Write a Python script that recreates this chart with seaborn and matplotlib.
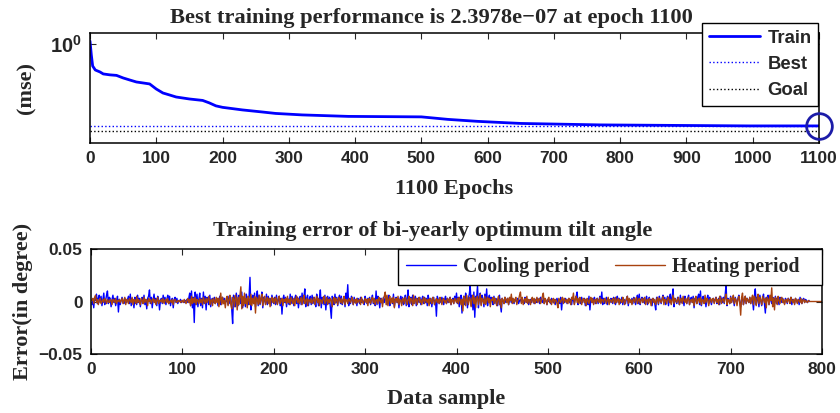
import numpy as np
import matplotlib
matplotlib.use("Agg")
import matplotlib.pyplot as plt
import seaborn as sns

# ---- data ----
# top panel: training mse (log scale)
epoch_pts = [0, 2, 4, 8, 15, 20, 30, 40, 50, 60, 70, 80, 90, 100, 110, 120, 130,
             150, 170, 180, 190, 200, 230, 260, 280, 320, 390, 500, 540, 585,
             650, 770, 995, 1100]
train_mse = [1.74, 1.29e-1, 1.66e-2, 7.9e-3, 5.5e-3, 3.8e-3, 3.2e-3, 2.9e-3,
             1.8e-3, 1.23e-3, 8.5e-4, 7.1e-4, 5.9e-4, 2.3e-4, 1.1e-4, 7.6e-5,
             5.2e-5, 3.6e-5, 2.75e-5, 1.74e-5, 1.0e-5, 7.6e-6, 4.7e-6, 3.2e-6,
             2.45e-6, 1.86e-6, 1.41e-6, 1.29e-6, 8.1e-7, 5.6e-7, 3.8e-7,
             2.9e-7, 2.4e-7, 2.3978e-7]
best_epoch = 1100
best_mse = 2.3978e-7
goal_mse = 1e-7
epoch_ticks = list(range(0, 1101, 100))

# bottom panel: training error, in units of 0.001 degree
cooling_err = [
    -3, 2, -6, 4, 1, 7, -2, 3, 6, -1, 5, -4, 2, 8, -3, 1, 6, 10, -2, 4, 3, -5, 2, 6, -1, 3, -4, 1, 5, -10, 2, -3, 1, 4, 0, -2, 3, 1, -1, 2,
    5, -2, 7, -4, 3, 1, -6, 4, 2, -3, 6, -1, 3, -5, 1, 4, -2, 6, -3, 2, -7, 3, 5, 11, -2, 4, -6, 2, 7, -1, 3, -4, 5, 2, -8, 1, 3, -2, 6, -1,
    4, -3, 2, 6, -2, 5, -4, 1, 3, -6, 2, 4, -1, 3, -2, 1, 0, 2, -1, 1, 0, -1, 1, 0, 2, -1, 3, 8, -4, 10, -6, 4, -20, 9, -3, 7, -5, 2, 8, -4,
    3, -6, 9, -2, 5, -8, 4, 1, -3, 6, -5, 2, 3, -1, 4, -2, 1, 3, -4, 2, 5, -3, 1, 4, -2, 3, -1, 0, 2, -3, 5, -2, 4, -7, -21, 6, 3, -5, 8, 2,
    -4, 6, 3, -2, 9, -6, 4, 2, -5, 7, 1, -3, 5, 23, -8, 4, 6, -2, 8, -5, 3, 10, -4, 6, -3, 2, 9, -6, 4, 1, -2, 7, -3, 5, -1, 3, -4, 6, 2, -2,
    4, -3, 6, -2, 1, 5, -4, 3, -12, 2, 6, -1, 4, -5, 3, 2, -3, 7, -2, 5, 1, -4, 3, 6, -2, 4, -6, 2, 5, -3, 8, -2, 4, 12, -5, 3, 6, -4, 2, 5,
    -3, 6, -2, 4, 1, -5, 7, 2, -4, 3, 11, -6, 4, 2, -3, 6, -8, 3, 5, -2, 4, -6, -16, 5, 2, -3, 7, -1, 4, -4, 3, 6, -2, 5, -3, 1, 4, -5, 8, 2,
    16, -4, 3, -2, 5, 1, -3, 4, -1, 2, -4, 3, 1, -2, 4, -1, 2, 0, -3, 5, 1, -2, 3, -1, 4, -3, 2, 6, -2, 1, -4, 10, -3, 5, 2, -6, 3, 1, -2, 4,
    -1, 3, 5, -3, 2, 6, -4, 1, 3, -2, 7, -5, 2, 4, -1, 3, -6, 2, 5, -2, 4, -3, 1, 6, -4, 3, 11, -5, 2, 4, -3, 6, -2, 1, 5, -4, 3, 2, -1, 4,
    -3, 2, 5, -2, 4, -1, 3, -4, 6, 1, -2, 3, -5, 2, 4, -3, 1, -14, 5, 2, -2, 3, -1, 4, 1, -3, 2, 5, -2, 3, -1, 2, 4, -3, 1, 3, -2, 5, 1, 8,
    -2, 4, -5, 3, 6, -11, 2, 5, -3, 8, 4, -6, 3, 7, 15, -4, 6, -8, 9, -15, 5, 3, 15, -6, 4, 8, -3, 6, 2, -5, 7, -2, 12, -4, 3, 6, -2, 4, 1, -3,
    5, -2, 3, 1, -4, 2, 6, -3, -10, 3, 1, -2, 4, -1, 2, 3, -3, 1, 2, -1, 3, 0, -2, 2, 1, -1, 3, -2, 1, 2, -1, 3, 0, -2, 4, 1, -1, 2, -3, 1,
    2, -1, 3, 1, -2, 2, 0, -1, 3, 1, -2, 4, 1, -1, 3, -2, 2, 1, -3, 2, 0, 1, -2, 3, 1, -1, 2, -3, 1, 3, -1, 2, -2, 4, -8, 2, 1, -1, 3, 2,
    -2, 1, 3, -1, 2, -3, 4, 1, -2, 3, 5, 9, -3, 2, 1, -2, 4, -1, 2, 3, -4, 2, 1, -3, 5, -8, 2, 3, -1, 2, 4, -2, 1, 3, -2, 2, 5, -1, 9, -3,
    3, -2, 1, 4, -3, 2, 1, -1, 3, 2, -2, 4, 1, -3, 2, 5, -1, 3, -2, 1, 4, -3, 2, 1, -2, 3, 5, -4, 2, 1, -1, 3, -2, 4, 1, -3, 2, 6, -2, 7,
    -3, 2, 4, -1, 3, -2, 1, 5, -3, 2, 4, -1, 2, -4, 3, 1, -2, -8, 4, 2, -3, 5, 1, -2, 3, 6, -1, 4, -3, 2, 5, -4, 3, 7, -2, 4, 12, -5, 3, 1,
    -2, 4, 1, -3, 6, -1, 3, 2, -4, 5, 1, -2, 3, 6, -3, 2, 4, -1, 5, -6, 3, 2, -2, 4, 7, -3, 10, -4, 2, 5, -1, 3, -5, 2, 6, -2, 4, 1, -3, 2,
    3, -1, 2, 4, -2, 1, 3, -3, 5, 2, -1, 4, -2, 6, 16, -4, 3, 1, -2, 5, -1, 3, 2, -4, 4, 1, -2, 3, 6, -1, -5, 2, 4, -3, 1, 5, -2, 3, 1, -1,
    4, -2, 3, 1, -8, 5, 12, -3, 4, 2, -5, 6, 1, -4, 3, 7, -2, -11, 4, 2, 6, -3, 5, 1, -2, 4, 3, -1, 5, -2, 3, 1, -3, 4, 2, -1, 3, 0, -2, 3,
    1, -2, 3, 2, -1, 4, -3, 2, 1, -2, 3, 1, -1, 2, -3, 4, 1, -2, 2, 3, -1, 2, 1, -1, 0, 1,
]
heating_err = [
    1, 3, -2, 4, 6, -1, 2, -3, 1, 3, -2, 0, 2, -1, 3, 1, -2, 2, 0, -1, 2, 1, -3, 2, 1, -1, 3, -2, 1, 0, 2, -1, 1, 3, -2, 1, 4, -3, 2, 1,
    -2, 3, 1, -1, 4, -3, 2, 1, -2, 5, -1, 2, 0, -3, 3, 1, -2, 4, -1, 2, 1, -4, 3, 0, 2, -2, 1, 3, -1, 2, -3, 1, 4, -2, 1, 0, 2, -1, 3, -2,
    1, 2, -1, 3, -2, 0, 1, -1, 2, -3, 1, 2, 0, -1, 1, 0, 1, -1, 0, 1, -1, 2, 0, -2, 1, 3, -1, 2, -4, 5, -2, 3, -1, 4, -3, 2, 1, -2, 3, -1,
    2, -3, 4, 1, -2, 3, -1, 2, 5, -3, 1, 2, -4, 3, 1, -2, 4, -1, 3, -5, 2, 8, -3, 4, -2, 1, -6, 3, 5, -4, 2, 6, -3, -7, 4, 2, -5, 6, 3, -8,
    4, -3, 6, 14, -7, 5, -4, 8, -2, 3, -6, 5, 2, -3, 7, -4, 3, -2, 5, -11, 4, 2, -3, 6, -2, 3, 7, -4, 2, 5, -3, 1, 4, -2, 3, -5, 2, 4, -1, 3,
    -2, 4, 1, -3, 3, 5, -2, 1, 3, -4, 2, 0, 3, -2, 5, -1, 2, -3, 4, 1, -2, 3, -4, 2, 5, -1, 3, -2, 1, 4, -3, 2, 6, -2, 1, 3, -4, 2, 1, -1,
    3, -2, 1, 4, -3, 2, 5, -1, 3, -4, 2, 1, -2, 3, 5, -2, 1, 4, -3, 2, -1, 3, 1, -5, 2, 4, -2, 3, 1, -3, 4, 2, -1, 3, -2, 1, 5, -3, 2, 1,
    -2, 3, 1, -1, 2, 4, -3, 1, 2, -2, 3, -1, 1, 2, -3, 4, 0, -2, 1, 3, -1, 2, -4, 3, 1, -2, 2, 4, -1, 3, -3, 1, 2, -2, 4, 1, -1, 3, -5, 2,
    5, 9, -3, 6, -4, 2, 5, -2, 3, -1, 4, -6, 2, 3, -1, 5, -3, 2, 1, -4, 3, 2, -2, 4, 1, -3, 2, 5, -2, 3, 1, -4, 6, -2, 1, 3, -3, 2, 4, -1,
    2, -3, 1, 4, -2, 3, 1, -1, 2, -4, 3, 1, -2, 4, 2, -3, 1, 3, -1, 2, -2, 4, 1, -3, 2, 3, -1, 1, -2, 3, 2, -1, 4, -3, 2, 1, -2, 3, 1, -1,
    3, -2, 4, 1, -3, 2, -9, 5, 2, -4, 6, 1, -3, 4, 2, -5, 3, 6, -2, 4, -6, 3, 5, -3, 2, 7, -4, 3, 1, -2, 5, -3, 2, 4, -1, 3, -5, 2, 1, 4,
    -2, 3, 1, -4, 2, 5, -3, 2, -6, 3, 1, -2, 4, 2, -1, 3, -3, 4, 1, 7, -2, 3, -1, 2, 4, -3, 1, 2, 6, 9, -2, 4, -3, 1, 3, -1, 5, -2, 2, 1,
    -3, 2, 4, -1, 3, -2, 1, 4, -1, 2, 3, -2, 1, 5, 8, -2, 3, 1, -3, 2, 4, -1, 2, -3, 1, 3, -2, 2, 1, -2, -6, 3, 1, -1, 2, 4, -2, 3, 1, -1,
    2, -2, 3, 1, -3, 4, 2, 8, -3, 2, 5, -1, 3, -2, 4, 1, -3, 2, 3, -1, 2, -4, 3, 1, -2, 2, 4, -1, 3, -3, 1, 2, -2, 3, 1, -1, 4, -2, 2, 1,
    -1, 3, 2, -2, 1, 4, -3, 2, 1, -1, 3, 2, -2, 4, -1, 1, 3, -3, 2, 1, -1, 4, 2, -3, 1, 2, 5, -2, 3, -1, 2, -3, 1, 3, -1, 2, 4, -2, 1, 3,
    -2, 1, 3, -1, 2, 4, -3, 1, 2, -2, 3, 1, -4, 2, 3, -1, 2, -3, 1, 4, -2, 3, 1, -1, 2, 5, -3, 2, 1, -2, 3, 4, -1, 2, -3, 1, 6, -2, 3, 1,
    -1, 2, 4, -3, 1, 3, -2, 5, 1, -1, 3, -2, 2, 4, -3, 1, 2, -1, 3, -4, 2, 5, -2, 1, 3, -1, 4, -3, 2, 1, -2, 6, -1, 3, 2, -4, 1, 3, -1, 2,
    3, -2, 1, 4, -1, 2, -3, 5, 1, -2, 3, 2, -1, 4, 7, -3, 2, 1, -2, 4, -1, 3, 6, -2, 3, 1, -4, 2, 5, -1, -13, 4, 8, -3, 2, 5, -2, 3, 1, -1,
    4, -2, 3, 6, -3, 5, 2, -4, 3, 7, -2, 4, 1, -3, 5, 2, -1, 3, -6, 4, 2, -3, 6, 1, 13, -5, 3, -8, 4, 2, -3, 5, 1, -2, 3, 4, -1, 2, -3, 1,
    2, -1, 3, 1, -2, 4, 1, -1, 2, -3, 3, 1, -2, 2, 1, -1, 3, -2, 1, 2, -1, 1, 0, -1, 1, 0, 0, 0, 0, 0, 0, 0, 0, 0, 0, 0, 0, 0, 0, 0,
]
sample_ticks = list(range(0, 801, 100))
err_ticks = [-0.05, 0, 0.05]
err_tick_labels = ["\u22120.05", "0", "0.05"]

# ---- style ----
sns.set_style("ticks")
plt.rcParams["mathtext.fontset"] = "custom"
plt.rcParams["mathtext.rm"] = "Liberation Sans:bold"
plt.rcParams["mathtext.bf"] = "Liberation Sans:bold"
plt.rcParams["axes.linewidth"] = 1.1

SERIF = "Liberation Serif"
SANS = "Liberation Sans"
BLUE = "#0000ff"
BROWN = "#a8420f"

fig = plt.figure(figsize=(8.4, 4.13), dpi=100)
ax1 = fig.add_axes([90 / 840, 1 - 143 / 413, 729 / 840, 110 / 413])
ax2 = fig.add_axes([91 / 840, 1 - 354 / 413, 731 / 840, 105 / 413])

# ---- top: performance ----
sns.lineplot(x=epoch_pts, y=train_mse, ax=ax1, color=BLUE, lw=2, label="Train")
ax1.axhline(best_mse, color=BLUE, ls=":", lw=1, label="Best")
ax1.axhline(goal_mse, color="k", ls=":", lw=1, label="Goal")
ax1.plot([best_epoch], [best_mse], marker="o", ms=18.5, mfc="none",
         mec="#1c1ca8", mew=2, clip_on=False, zorder=5)
ax1.set_yscale("log")
ax1.set_xlim(0, 1100)
ax1.set_ylim(1.0e-8, 7.7)
ax1.set_xticks(epoch_ticks)
ax1.set_yticks([1])
ax1.set_yticklabels([r"$10^0$"])
ax1.yaxis.set_minor_locator(matplotlib.ticker.NullLocator())
ax1.set_title("Best training performance is 2.3978e\u221207 at epoch 1100",
              family=SERIF, weight="bold", fontsize=16.2, x=0.469, pad=7)
ax1.set_xlabel("1100 Epochs", family=SERIF, weight="bold", fontsize=16)
ax1.set_ylabel("(mse)", family=SERIF, weight="bold", fontsize=16)
ax1.xaxis.set_label_coords(0.5, -0.33)
ax1.yaxis.set_label_coords(-0.073, 0.5)
leg1 = ax1.legend(loc="upper right", bbox_to_anchor=(0.999, 1.09), borderaxespad=0,
                  prop={"family": SANS, "weight": "bold", "size": 13.3},
                  handlelength=2.8, handletextpad=0.4, labelspacing=0.5,
                  borderpad=0.35, fancybox=False, framealpha=1)
leg1.get_frame().set_edgecolor("k")
leg1.get_frame().set_linewidth(1.0)

# ---- bottom: training error ----
cool = np.array(cooling_err) * 0.001
heat = np.array(heating_err) * 0.001
sns.lineplot(x=np.arange(1, len(cool) + 1), y=cool, ax=ax2, color=BLUE, lw=1.0,
             label="Cooling period")
sns.lineplot(x=np.arange(1, len(heat) + 1), y=heat, ax=ax2, color=BROWN, lw=1.0,
             label="Heating period   ")
ax2.set_xlim(0, 800)
ax2.set_ylim(-0.05, 0.05)
ax2.set_xticks(sample_ticks)
ax2.set_yticks(err_ticks)
ax2.set_yticklabels(err_tick_labels)
ax2.set_title("Training error of bi-yearly optimum tilt angle",
              family=SERIF, weight="bold", fontsize=16.2, x=0.468, pad=9)
ax2.set_xlabel("Data sample", family=SERIF, weight="bold", fontsize=16)
ax2.set_ylabel("Error(in degree)", family=SERIF, weight="bold", fontsize=16)
ax2.xaxis.set_label_coords(0.486, -0.33)
ax2.yaxis.set_label_coords(-0.079, 0.5)
leg2 = ax2.legend(loc="upper right", bbox_to_anchor=(1.0, 1.0), borderaxespad=0,
                  ncol=2, prop={"family": SERIF, "weight": "bold", "size": 14.3},
                  handlelength=2.5, handletextpad=0.35, columnspacing=1.3,
                  borderpad=0.4, fancybox=False, framealpha=1)
leg2.get_frame().set_edgecolor("k")
leg2.get_frame().set_linewidth(1.0)

for ax in (ax1, ax2):
    ax.tick_params(direction="in", top=True, right=True, length=4, width=0.8,
                   pad=6, labelsize=12.5)
    for lab in ax.get_xticklabels() + ax.get_yticklabels():
        lab.set_family(SANS)
        lab.set_weight("bold")
    for sp in ax.spines.values():
        sp.set_visible(True)
        sp.set_color("k")
ax1.tick_params(axis="y", labelsize=14.5)

fig.savefig("out.png", dpi=100)
